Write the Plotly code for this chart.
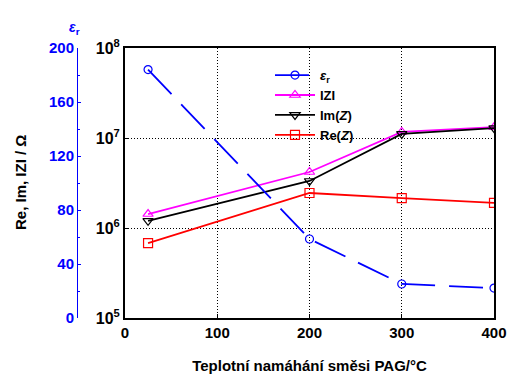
import plotly.graph_objects as go

temps = [25, 200, 300, 400]
eps_r = [184, 58.5, 25.2, 22.2]
z_abs = [1.43e6, 4.19e6, 1.17e7, 1.32e7]
z_im = [1.2e6, 3.33e6, 1.11e7, 1.29e7]
z_re = [6.8e5, 2.45e6, 2.15e6, 1.9e6]

x_ticks = [0, 100, 200, 300, 400]
log_tickvals = [1e5, 1e6, 1e7, 1e8]
log_ticktext = ["10<sup>5</sup>", "10<sup>6</sup>", "10<sup>7</sup>", "10<sup>8</sup>"]
eps_ticks = [0, 40, 80, 120, 160, 200]

W, H = 508, 377
PL, PR, T, B = 125, 494, 48, 59
font = dict(family="Liberation Sans, Arial, sans-serif", size=14, color="black")
BLUE = "#0000ff"

fig = go.Figure()
fig.add_trace(go.Scatter(x=temps, y=eps_r, yaxis="y2", name="<b><i>ε</i><sub>r</sub></b>",
                         mode="lines+markers",
                         line=dict(color=BLUE, width=1.8, dash="34px,14px"),
                         marker=dict(symbol="circle-open", size=8, color=BLUE, line=dict(width=1.2))))
fig.add_trace(go.Scatter(x=temps, y=z_abs, name="<b>IZI</b>", mode="lines+markers",
                         line=dict(color="#ff00ff", width=1.8),
                         marker=dict(symbol="triangle-up-open", size=9, color="#ff00ff", line=dict(width=1.2))))
fig.add_trace(go.Scatter(x=temps, y=z_im, name="<b>Im(<i>Z</i>)</b>", mode="lines+markers",
                         line=dict(color="black", width=1.8),
                         marker=dict(symbol="triangle-down-open", size=9, color="black", line=dict(width=1.2))))
fig.add_trace(go.Scatter(x=temps, y=z_re, name="<b>Re(<i>Z</i>)</b>", mode="lines+markers",
                         line=dict(color="red", width=1.8),
                         marker=dict(symbol="square-open", size=9, color="red", line=dict(width=1.2))))

fig.update_layout(
    width=W, height=H,
    margin=dict(l=0, r=0, t=T, b=B, autoexpand=False),
    paper_bgcolor="white", plot_bgcolor="white",
    font=font,
    showlegend=True,
    legend=dict(x=(270 / W), y=0.955, xanchor="left", yanchor="top", bgcolor="rgba(0,0,0,0)",
                font=dict(size=13, family=font["family"]), tracegroupgap=0, itemwidth=40),
    xaxis=dict(domain=[PL / W, PR / W], range=[0, 400], tickvals=x_ticks,
               ticktext=[f"<b>{v}</b>" for v in x_ticks], automargin=False,
               showgrid=True, gridcolor="black", griddash="1px,2px", gridwidth=1,
               showline=True, linecolor="black", linewidth=2, mirror=True,
               ticks="inside", ticklen=4, tickcolor="black", zeroline=False,
               tickfont=dict(size=15),
               title=dict(text="<b>Teplotní namáhání směsi PAG/°C</b>", font=dict(size=15), standoff=20)),
    yaxis=dict(type="log", range=[5, 8], tickvals=log_tickvals, ticktext=[f"<b>{t}</b>" for t in log_ticktext],
               automargin=False,
               showgrid=True, gridcolor="black", griddash="1px,2px", gridwidth=1,
               showline=True, linecolor="black", linewidth=2, mirror=True,
               ticks="inside", ticklen=4, tickcolor="black", zeroline=False,
               tickfont=dict(size=16)),
    yaxis2=dict(overlaying="y", anchor="free", position=77 / W, side="left", range=[0, 200],
                tickvals=eps_ticks, ticktext=[f"<b>{v}</b>" for v in eps_ticks], automargin=False,
                showgrid=False, zeroline=False, showline=True, linecolor=BLUE, linewidth=1,
                ticks="inside", ticklen=3, tickcolor=BLUE,
                minor=dict(dtick=20, ticks="inside", ticklen=2, tickcolor=BLUE),
                tickfont=dict(size=15, color=BLUE)),
)
fig.add_annotation(text="<b>Re, Im, IZI / Ω</b>", xref="paper", yref="paper",
                   x=20 / W, y=0.5, xanchor="center", yanchor="middle", textangle=-90, showarrow=False,
                   font=dict(size=15, color="black"))
fig.add_annotation(text="<b><i>ε</i><sub>r</sub></b>", xref="paper", yref="paper",
                   x=74 / W, y=(H - B - 28) / (H - T - B), xanchor="center", yanchor="middle",
                   showarrow=False, font=dict(size=14, color=BLUE))
fig.write_html("out.html", config={"displayModeBar": False},
               post_script="document.body.style.margin='0';document.body.style.overflow='hidden';")
